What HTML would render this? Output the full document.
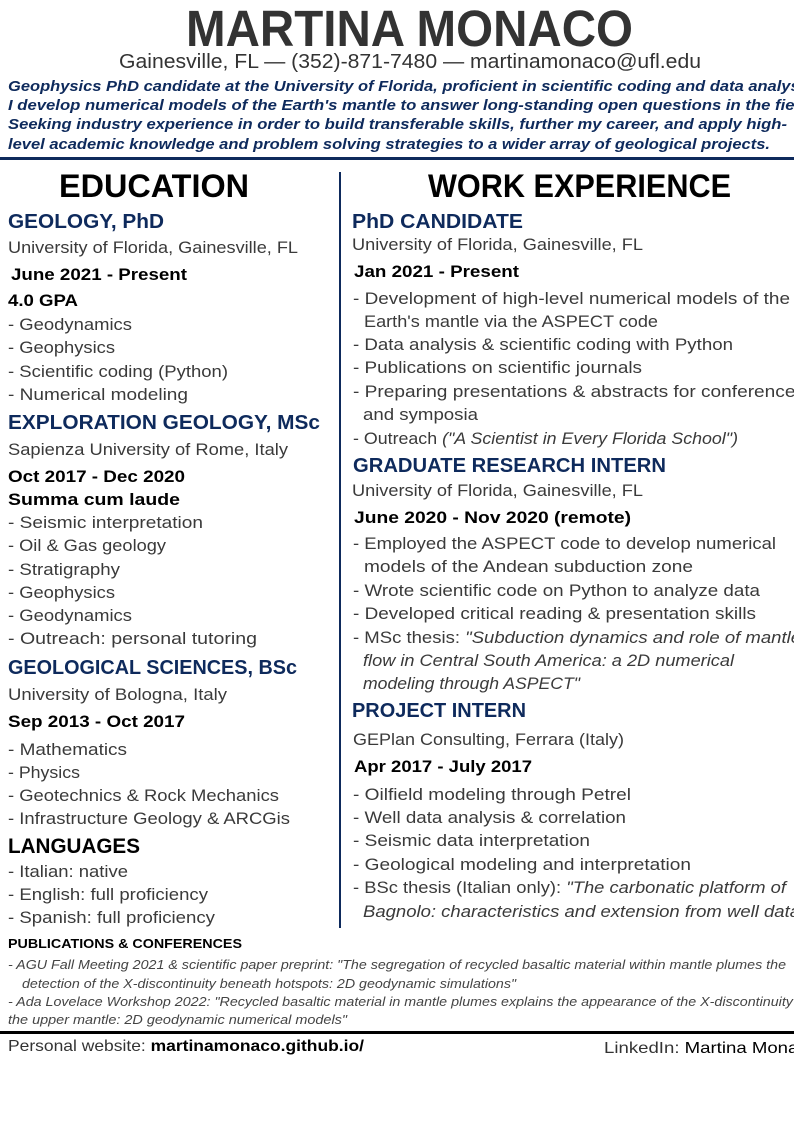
<!DOCTYPE html>
<html><head><meta charset="utf-8"><style>
html,body{margin:0;padding:0;background:#fff;width:794px;height:1123px;overflow:hidden}
svg{display:block}
text{font-family:"Liberation Sans",sans-serif}
.b{font-size:17px;fill:#3a3a3a}
.d{font-size:17px;font-weight:bold;fill:#000}
.h{font-size:20px;font-weight:bold;fill:#0e2a5c}
.s{font-size:15px;font-weight:bold;font-style:italic;fill:#0e2a5c}
.p{font-size:13px;font-style:italic;fill:#444}
.i{font-style:italic}
</style></head><body>
<svg width="794" height="1123" viewBox="0 0 794 1123" xmlns="http://www.w3.org/2000/svg" lengthAdjust="spacingAndGlyphs">
<text x="186" y="46" font-size="51" font-weight="bold" fill="#333" textLength="447" lengthAdjust="spacingAndGlyphs">MARTINA MONACO</text>
<text x="119" y="68" font-size="20" fill="#333" textLength="582" lengthAdjust="spacingAndGlyphs">Gainesville, FL — (352)-871-7480 — martinamonaco@ufl.edu</text>
<text class="s" x="8" y="91" textLength="810" lengthAdjust="spacingAndGlyphs">Geophysics PhD candidate at the University of Florida, proficient in scientific coding and data analysis.</text>
<text class="s" x="8" y="110" textLength="806" lengthAdjust="spacingAndGlyphs">I develop numerical models of the Earth's mantle to answer long-standing open questions in the field.</text>
<text class="s" x="8" y="129" textLength="779" lengthAdjust="spacingAndGlyphs">Seeking industry experience in order to build transferable skills, further my career, and apply high-</text>
<text class="s" x="8" y="149" textLength="762" lengthAdjust="spacingAndGlyphs">level academic knowledge and problem solving strategies to a wider array of geological projects.</text>
<rect x="0" y="157" width="794" height="3" fill="#0e2a5c"/>
<text x="59" y="197" font-size="32" font-weight="bold" fill="#000" textLength="190" lengthAdjust="spacingAndGlyphs">EDUCATION</text>
<text x="428" y="197" font-size="32" font-weight="bold" fill="#000" textLength="303" lengthAdjust="spacingAndGlyphs">WORK EXPERIENCE</text>
<rect x="339" y="172" width="2" height="756" fill="#0e2a5c"/>

<text class="h" x="8" y="228" textLength="156" lengthAdjust="spacingAndGlyphs">GEOLOGY, PhD</text>
<text class="b" x="8" y="253" textLength="290" lengthAdjust="spacingAndGlyphs">University of Florida, Gainesville, FL</text>
<text class="d" x="11" y="280" textLength="176" lengthAdjust="spacingAndGlyphs">June 2021 - Present</text>
<text class="d" x="8" y="306" textLength="70" lengthAdjust="spacingAndGlyphs">4.0 GPA</text>
<text class="b" x="8" y="330" textLength="124" lengthAdjust="spacingAndGlyphs">- Geodynamics</text>
<text class="b" x="8" y="353" textLength="107" lengthAdjust="spacingAndGlyphs">- Geophysics</text>
<text class="b" x="8" y="377" textLength="220" lengthAdjust="spacingAndGlyphs">- Scientific coding (Python)</text>
<text class="b" x="8" y="400" textLength="180" lengthAdjust="spacingAndGlyphs">- Numerical modeling</text>
<text class="h" x="8" y="429" textLength="312" lengthAdjust="spacingAndGlyphs">EXPLORATION GEOLOGY, MSc</text>
<text class="b" x="8" y="455" textLength="280" lengthAdjust="spacingAndGlyphs">Sapienza University of Rome, Italy</text>
<text class="d" x="8" y="482" textLength="177" lengthAdjust="spacingAndGlyphs">Oct 2017 - Dec 2020</text>
<text class="d" x="8" y="505" textLength="172" lengthAdjust="spacingAndGlyphs">Summa cum laude</text>
<text class="b" x="8" y="528" textLength="195" lengthAdjust="spacingAndGlyphs">- Seismic interpretation</text>
<text class="b" x="8" y="551" textLength="158" lengthAdjust="spacingAndGlyphs">- Oil &amp; Gas geology</text>
<text class="b" x="8" y="575" textLength="112" lengthAdjust="spacingAndGlyphs">- Stratigraphy</text>
<text class="b" x="8" y="598" textLength="107" lengthAdjust="spacingAndGlyphs">- Geophysics</text>
<text class="b" x="8" y="621" textLength="124" lengthAdjust="spacingAndGlyphs">- Geodynamics</text>
<text class="b" x="8" y="644" textLength="249" lengthAdjust="spacingAndGlyphs">- Outreach:  personal tutoring</text>
<text class="h" x="8" y="674" textLength="289" lengthAdjust="spacingAndGlyphs">GEOLOGICAL SCIENCES, BSc</text>
<text class="b" x="8" y="700" textLength="219" lengthAdjust="spacingAndGlyphs">University of Bologna, Italy</text>
<text class="d" x="8" y="727" textLength="177" lengthAdjust="spacingAndGlyphs">Sep 2013 - Oct 2017</text>
<text class="b" x="8" y="755" textLength="119" lengthAdjust="spacingAndGlyphs">- Mathematics</text>
<text class="b" x="8" y="778" textLength="72" lengthAdjust="spacingAndGlyphs">- Physics</text>
<text class="b" x="8" y="801" textLength="271" lengthAdjust="spacingAndGlyphs">- Geotechnics &amp; Rock Mechanics</text>
<text class="b" x="8" y="824" textLength="282" lengthAdjust="spacingAndGlyphs">- Infrastructure Geology &amp; ARCGis</text>
<text x="8" y="853" font-size="21" font-weight="bold" fill="#000" textLength="132" lengthAdjust="spacingAndGlyphs">LANGUAGES</text>
<text class="b" x="8" y="877" textLength="120" lengthAdjust="spacingAndGlyphs">- Italian: native</text>
<text class="b" x="8" y="900" textLength="200" lengthAdjust="spacingAndGlyphs">- English: full proficiency</text>
<text class="b" x="8" y="923" textLength="207" lengthAdjust="spacingAndGlyphs">- Spanish: full proficiency</text>

<text class="h" x="352" y="228" textLength="171" lengthAdjust="spacingAndGlyphs">PhD CANDIDATE</text>
<text class="b" x="352" y="250" textLength="291" lengthAdjust="spacingAndGlyphs">University of Florida, Gainesville, FL</text>
<text class="d" x="354" y="277" textLength="165" lengthAdjust="spacingAndGlyphs">Jan 2021 - Present</text>
<text class="b" x="353" y="304" textLength="437" lengthAdjust="spacingAndGlyphs">- Development of high-level numerical models of the</text>
<text class="b" x="364" y="327" textLength="294" lengthAdjust="spacingAndGlyphs">Earth's mantle via the ASPECT code</text>
<text class="b" x="353" y="350" textLength="380" lengthAdjust="spacingAndGlyphs">- Data analysis &amp; scientific coding with Python</text>
<text class="b" x="353" y="373" textLength="289" lengthAdjust="spacingAndGlyphs">- Publications on scientific journals</text>
<text class="b" x="353" y="397" textLength="452" lengthAdjust="spacingAndGlyphs">- Preparing presentations &amp; abstracts for conferences</text>
<text class="b" x="363" y="420" textLength="115" lengthAdjust="spacingAndGlyphs">and symposia</text>
<text class="b" x="353" y="444" textLength="385" lengthAdjust="spacingAndGlyphs">- Outreach <tspan class="i">("A Scientist in Every Florida School")</tspan></text>
<text class="h" x="353" y="472" textLength="313" lengthAdjust="spacingAndGlyphs">GRADUATE RESEARCH INTERN</text>
<text class="b" x="352" y="496" textLength="291" lengthAdjust="spacingAndGlyphs">University of Florida, Gainesville, FL</text>
<text class="d" x="354" y="523" textLength="277" lengthAdjust="spacingAndGlyphs">June 2020 - Nov 2020 (remote)</text>
<text class="b" x="353" y="549" textLength="423" lengthAdjust="spacingAndGlyphs">- Employed the ASPECT code to develop numerical</text>
<text class="b" x="364" y="572" textLength="329" lengthAdjust="spacingAndGlyphs">models of the Andean subduction zone</text>
<text class="b" x="353" y="596" textLength="407" lengthAdjust="spacingAndGlyphs">- Wrote scientific code on Python to analyze data</text>
<text class="b" x="353" y="619" textLength="403" lengthAdjust="spacingAndGlyphs">- Developed critical reading &amp; presentation skills</text>
<text class="b" x="353" y="643" textLength="448" lengthAdjust="spacingAndGlyphs">- MSc thesis: <tspan class="i">"Subduction dynamics and role of mantle</tspan></text>
<text class="b i" x="363" y="666" textLength="371" lengthAdjust="spacingAndGlyphs">flow in Central South America: a 2D numerical</text>
<text class="b i" x="363" y="689" textLength="217" lengthAdjust="spacingAndGlyphs">modeling through ASPECT"</text>
<text class="h" x="352" y="717" textLength="174" lengthAdjust="spacingAndGlyphs">PROJECT INTERN</text>
<text class="b" x="353" y="745" textLength="271" lengthAdjust="spacingAndGlyphs">GEPlan Consulting, Ferrara (Italy)</text>
<text class="d" x="354" y="772" textLength="178" lengthAdjust="spacingAndGlyphs">Apr 2017 - July 2017</text>
<text class="b" x="353" y="800" textLength="278" lengthAdjust="spacingAndGlyphs">- Oilfield modeling through Petrel</text>
<text class="b" x="353" y="823" textLength="273" lengthAdjust="spacingAndGlyphs">- Well data analysis &amp; correlation</text>
<text class="b" x="353" y="846" textLength="237" lengthAdjust="spacingAndGlyphs">- Seismic data interpretation</text>
<text class="b" x="353" y="870" textLength="338" lengthAdjust="spacingAndGlyphs">- Geological modeling and interpretation</text>
<text class="b" x="353" y="893" textLength="433" lengthAdjust="spacingAndGlyphs">- BSc thesis (Italian only): <tspan class="i">"The carbonatic platform of</tspan></text>
<text class="b i" x="363" y="917" textLength="437" lengthAdjust="spacingAndGlyphs">Bagnolo: characteristics and extension from well data</text>

<text x="8" y="948" font-size="13" font-weight="bold" fill="#000" textLength="234" lengthAdjust="spacingAndGlyphs">PUBLICATIONS &amp; CONFERENCES</text>
<text class="p" x="8" y="969" textLength="778" lengthAdjust="spacingAndGlyphs">- AGU Fall Meeting 2021 &amp; scientific paper preprint: "The segregation of recycled basaltic material within mantle plumes the</text>
<text class="p" x="22" y="988" textLength="494" lengthAdjust="spacingAndGlyphs">detection of the X-discontinuity beneath hotspots: 2D geodynamic simulations"</text>
<text class="p" x="8" y="1006" textLength="800" lengthAdjust="spacingAndGlyphs">- Ada Lovelace Workshop 2022: "Recycled basaltic material in mantle plumes explains the appearance of the X-discontinuity in</text>
<text class="p" x="8" y="1024" textLength="339" lengthAdjust="spacingAndGlyphs">the upper mantle: 2D geodynamic numerical models"</text>
<rect x="0" y="1031" width="794" height="3" fill="#000"/>
<text x="8" y="1051" font-size="16" fill="#333" textLength="356" lengthAdjust="spacingAndGlyphs">Personal website: <tspan font-weight="bold" fill="#000">martinamonaco.github.io/</tspan></text>
<text x="604" y="1053" font-size="16" fill="#333" textLength="214" lengthAdjust="spacingAndGlyphs">LinkedIn: <tspan fill="#000">Martina Monaco</tspan></text>
</svg>
</body></html>
